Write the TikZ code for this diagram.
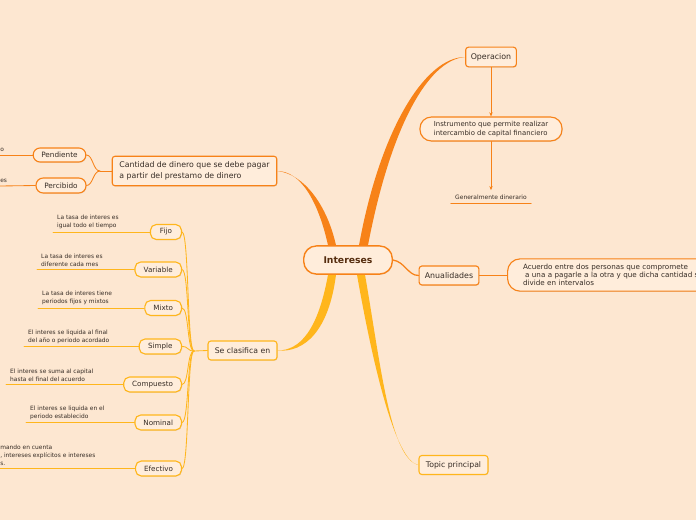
\documentclass[tikz,border=0pt]{standalone}
\usepackage{fontspec}
\setmainfont{DejaVu Sans}
\usepackage{xcolor}
\definecolor{fondo}{RGB}{253,231,209}
\definecolor{relleno}{RGB}{255,237,219}
\definecolor{naranja}{RGB}{247,130,24}
\definecolor{amarillo}{RGB}{255,182,28}
\definecolor{tinta}{RGB}{55,45,38}
\definecolor{cafe}{RGB}{85,45,15}
\usetikzlibrary{calc,arrows.meta,shadows}

\begin{document}
\begin{tikzpicture}[x=0.025cm,y=-0.025cm,line cap=round,line join=round]
	\tikzstyle{caja}=[draw=naranja,line width=0.8pt,fill=relleno,text=tinta,rounded corners=2pt,inner sep=0pt,align=left,drop shadow={shadow xshift=0.4pt,shadow yshift=-0.5pt,opacity=0.2}];
	\tikzstyle{cajaam}=[caja,draw=amarillo];
	\tikzstyle{hijo}=[cajaam,anchor=east,rounded corners=4pt,minimum height=10.6pt,font=\fontsize{5.1}{6}\selectfont];
	\tikzstyle{desc}=[text=tinta,align=left,anchor=south west,inner xsep=2.8pt,inner ysep=2pt,font=\fontsize{4.2}{5.6}\selectfont];
	\tikzstyle{hilo}=[amarillo,line width=0.6pt];
	\tikzstyle{hiloN}=[naranja,line width=0.6pt];
	\useasboundingbox (0,0) rectangle (696,520);
	\fill[fondo] (0,0) rectangle (696,520);
	\clip (0,0) rectangle (696,520);

	% centro
	\node[caja,line width=1pt,rounded corners=9pt,align=center,minimum width=63pt,minimum height=20pt,text=cafe,font=\fontsize{6.6}{7}\selectfont\bfseries] (ints) at (348,260) {Intereses};

	% rama derecha
	\node[caja,minimum width=36pt,minimum height=14pt,font=\fontsize{5.6}{6}\selectfont] (oper) at (491,57) {Operacion};
	\node[caja,rounded corners=8pt,minimum width=101pt,minimum height=17pt,font=\fontsize{4.9}{6.4}\selectfont] (inst) at (491,129) {Instrumento que permite realizar\\intercambio de capital financiero};
	\node[text=tinta,minimum width=56.7pt,inner xsep=0pt,inner ysep=3pt,font=\fontsize{4.25}{5}\selectfont] (gen) at (491,197) {Generalmente dinerario};
	\draw[hiloN] (gen.south west) -- (gen.south east);
	\draw[hiloN,-{Stealth[length=3pt,width=2.4pt]}] (oper) -- (inst);
	\draw[hiloN,-{Stealth[length=3pt,width=2.4pt]}] (inst) -- (gen);
	\fill[naranja] ($(ints.north)+(11,0)$) .. controls (380,130) and (425,57) .. (oper.west) .. controls (427,60) and (390,130) .. ($(ints.north)+(20,0)$) -- cycle;

	\node[caja,minimum width=42.5pt,minimum height=13.5pt,font=\fontsize{5.6}{6}\selectfont] (anu) at (449,275.5) {Anualidades};
	\node[caja,anchor=west,rounded corners=9pt,text width=135pt,inner xsep=11pt,minimum height=23pt,font=\fontsize{5.1}{5.8}\selectfont] (acu) at (507,275) {Acuerdo entre dos personas que compromete\\\hspace*{1.5pt}a una a pagarle a la otra y que dicha cantidad se\\divide en intervalos};
	\draw[hiloN,line width=0.9pt] (ints.east) .. controls (405,262) and (408,275.5) .. (anu.west);
	\draw[hiloN] (anu.east) -- (acu.west |- anu.east);

	\node[cajaam,minimum width=49pt,minimum height=13.5pt,font=\fontsize{5.5}{6}\selectfont] (topi) at (453.5,465) {Topic principal};
	\fill[amarillo] ($(ints.south)+(9,0)$) .. controls (372,360) and (395,462) .. (topi.west) .. controls (390,459) and (380,360) .. ($(ints.south)+(17,0)$) -- cycle;

	% rama izquierda arriba
	\node[caja,minimum width=117pt,minimum height=21pt,inner xsep=4pt,font=\fontsize{5.55}{7.8}\selectfont] (cant) at (194.5,171) {Cantidad de dinero que se debe pagar\\a partir del prestamo de dinero};
	\fill[naranja] ($(ints.north)+(-20,0)$) .. controls (318,200) and (300,171) .. (cant.east) .. controls (304,174) and (327,205) .. ($(ints.north)+(-12,0)$) -- cycle;
	\node[caja,rounded corners=5pt,minimum width=37.5pt,minimum height=10pt,font=\fontsize{5.2}{6}\selectfont] (pend) at (59.5,155) {Pendiente};
	\node[caja,rounded corners=5pt,minimum width=35.5pt,minimum height=10.6pt,font=\fontsize{5.2}{6}\selectfont] (perc) at (61,185.5) {Percibido};
	\coordinate (cc) at (100,171);
	\draw[hiloN] (cant.west) -- (cc);
	\draw[hiloN] (cc) .. controls (93,171) and (93,155) .. (pend.east);
	\draw[hiloN] (cc) .. controls (93,171) and (93,185.5) .. (perc.east);
	\node[desc,inner xsep=0pt] (dpend) at (0,155) {o};
	\node[desc,inner xsep=0pt] (dperc) at (0,186) {es};
	\draw[hiloN] (dpend.south west) -- (pend.west);
	\draw[hiloN] (dperc.south west) -- (perc.west);

	% rama izquierda abajo
	\node[cajaam,minimum width=49pt,minimum height=13.5pt,font=\fontsize{5.5}{6}\selectfont] (clas) at (242.5,350.5) {Se clasifica en};
	\fill[amarillo] ($(ints.south)+(-20,0)$) .. controls (318,330) and (300,350.5) .. (clas.east) .. controls (305,353) and (329,330) .. ($(ints.south)+(-12,0)$) -- cycle;
	\node[hijo,minimum width=22pt] (fijo) at (182,232) {Fijo};
	\node[hijo,minimum width=33pt] (vari) at (182,269.5) {Variable};
	\node[hijo,minimum width=26pt] (mixt) at (182,308) {Mixto};
	\node[hijo,minimum width=30pt] (simp) at (182,346.5) {Simple};
	\node[hijo,minimum width=41pt] (comp) at (182,384.5) {Compuesto};
	\node[hijo,minimum width=33pt] (nomi) at (182,422.5) {Nominal};
	\node[hijo,minimum width=32.6pt] (efec) at (182,468.5) {Efectivo};
	\coordinate (sc) at (194,351);
	\draw[hilo] (clas.west) -- (sc);
	\draw[hilo] (sc) .. controls (187,351) and (189,232) .. (fijo.east);
	\draw[hilo] (sc) .. controls (187,351) and (189,269.5) .. (vari.east);
	\draw[hilo] (sc) .. controls (187,351) and (189,308) .. (mixt.east);
	\draw[hilo] (sc) .. controls (187,351) and (189,346.5) .. (simp.east);
	\draw[hilo] (sc) .. controls (187,351) and (189,384.5) .. (comp.east);
	\draw[hilo] (sc) .. controls (187,351) and (189,422.5) .. (nomi.east);
	\draw[hilo] (sc) .. controls (187,351) and (189,468.5) .. (efec.east);

	\node[desc] (dfijo) at (53,232) {La tasa de interes es\\igual todo el tiempo};
	\node[desc] (dvari) at (37,269.5) {La tasa de interes es\\diferente cada mes};
	\node[desc] (dmixt) at (38,308) {La tasa de interes tiene\\periodos fijos y mixtos};
	\node[desc] (dsimp) at (24,346.5) {El interes se liquida al final\\del año o periodo acordado};
	\node[desc] (dcomp) at (6,384.5) {El interes se suma al capital\\hasta el final del acuerdo};
	\node[desc] (dnomi) at (26,422.5) {El interes se liquida en el\\periodo establecido};
	\node[desc,inner xsep=0pt] (defec) at (0,468.5) {mando en cuenta\\, intereses explícitos e intereses\\s.};
	\draw[hilo] (dfijo.south west) -- (fijo.west);
	\draw[hilo] (dvari.south west) -- (vari.west);
	\draw[hilo] (dmixt.south west) -- (mixt.west);
	\draw[hilo] (dsimp.south west) -- (simp.west);
	\draw[hilo] (dcomp.south west) -- (comp.west);
	\draw[hilo] (dnomi.south west) -- (nomi.west);
	\draw[hilo] (defec.south west) -- (efec.west);
\end{tikzpicture}
\end{document}
